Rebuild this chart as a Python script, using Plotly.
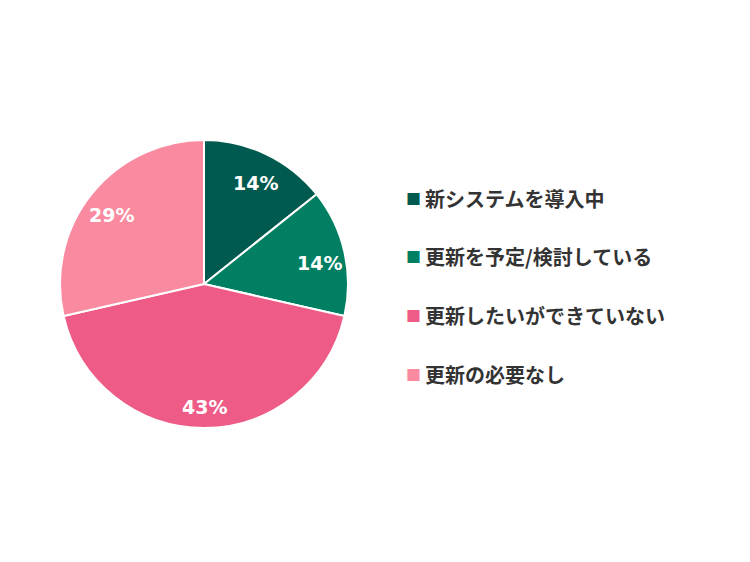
import math
import plotly.graph_objects as go

# 回答区分と件数 (7件)
labels = ['新システムを導入中', '更新を予定/検討している', '更新したいができていない', '更新の必要なし']
counts = [1, 1, 3, 2]
colors = ['#005a50', '#007f62', '#ef5b87', '#f98a9f']

W, H = 750, 562
OFF = 8  # ページ余白の分
font_family = 'Noto Sans CJK JP, Noto Sans, sans-serif'
num_family = 'DejaVu Sans, Verdana, sans-serif'

# 円の位置 (ピクセル)
cx, cy, R = 204 - OFF, 284 - OFF, 144

fig = go.Figure()

fig.add_trace(go.Pie(
    labels=labels,
    values=counts,
    sort=False,
    direction='clockwise',
    rotation=0,
    marker=dict(colors=colors, line=dict(color='white', width=2)),
    textinfo='none',
    hoverinfo='label+percent',
    showlegend=False,
    domain=dict(x=[(cx - R) / W, (cx + R) / W], y=[1 - (cy + R) / H, 1 - (cy - R) / H]),
))

# パーセント表示 (円の外寄りに置く)
total = sum(counts)
start = 0.0
for c in counts:
    mid = (start + c / 2) / total * 2 * math.pi
    start += c
    r = R * 0.82
    px = cx + r * math.sin(mid)
    py = cy - r * math.cos(mid)
    fig.add_annotation(
        x=px / W, y=1 - py / H, xref='paper', yref='paper',
        xanchor='center', yanchor='middle', yshift=-5,
        showarrow=False, text='%d%%' % round(c / total * 100),
        font=dict(color='white', size=19, family=num_family, weight='bold'),
    )

# 凡例 (行間が広いので注釈で描く)
legend_y = [198, 257, 315, 374]
for lab, col, yy in zip(labels, colors, legend_y):
    fig.add_annotation(
        x=(404 - OFF) / W, y=1 - (yy - OFF) / H, xref='paper', yref='paper',
        xanchor='left', yanchor='middle', showarrow=False,
        text='■', font=dict(color=col, size=15, family=font_family),
    )
    fig.add_annotation(
        x=(423 - OFF) / W, y=1 - (yy - OFF) / H, xref='paper', yref='paper',
        xanchor='left', yanchor='middle', showarrow=False,
        text=lab, font=dict(color='#333333', size=20, family=font_family, weight='bold'),
    )

fig.update_layout(
    width=W, height=H,
    margin=dict(l=0, r=0, t=0, b=0),
    paper_bgcolor='white',
    plot_bgcolor='white',
    font=dict(family=font_family),
)

fig.write_html('out.html')
